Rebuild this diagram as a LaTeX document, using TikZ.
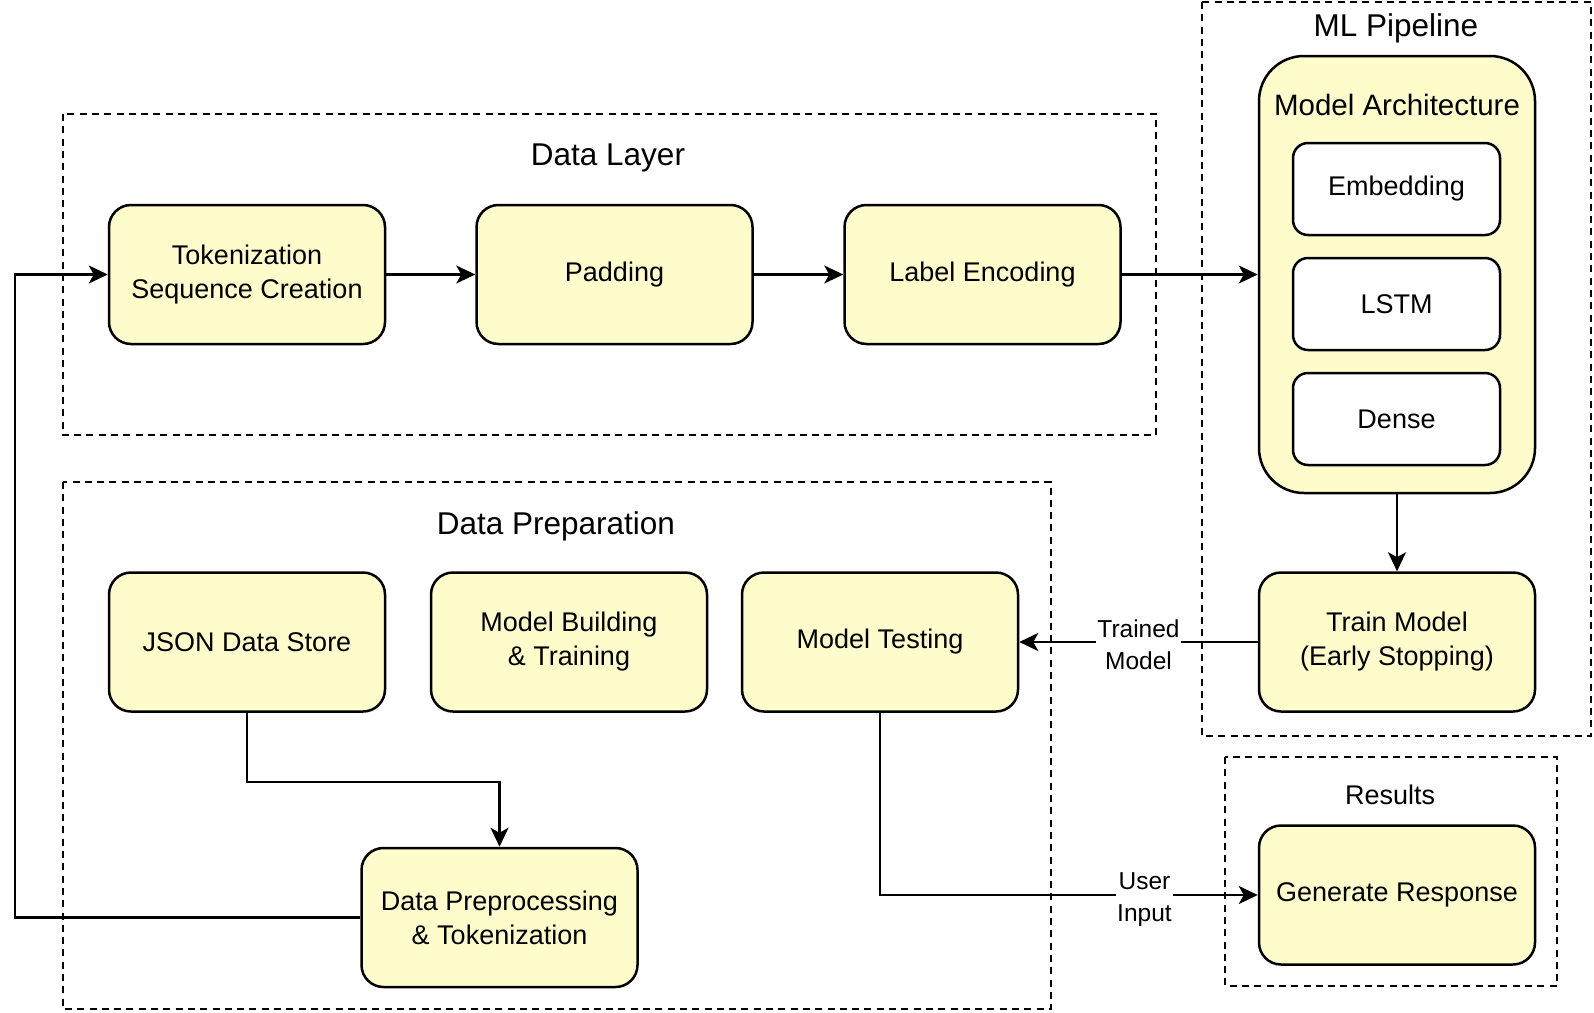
\documentclass[tikz,border=0pt]{standalone}
\usepackage{fontspec}
\setmainfont{Liberation Sans}
\usepackage{tikz}
\usetikzlibrary{shapes, arrows.meta, positioning, calc}

\tikzset{
    block/.style={draw, line width=2.5pt, fill=yellow!20, rounded corners=22pt,
        minimum width=276pt, minimum height=139pt, align=center,
        font=\fontsize{27pt}{34pt}\selectfont},
    layer/.style={draw, line width=2.5pt, fill=white, rounded corners=15pt,
        minimum width=207pt, minimum height=92pt,
        font=\fontsize{27pt}{33pt}\selectfont},
    group/.style={line width=2.6pt, dash pattern=on 7pt off 5.3pt},
    arr/.style={line width=2.2pt, -{Stealth[length=19pt, width=18pt, inset=5pt]}},
    title/.style={font=\fontsize{31.5pt}{36pt}\selectfont},
    elabel/.style={fill=white, align=center, inner sep=1pt,
        font=\fontsize{24.5pt}{32pt}\selectfont}
}

\begin{document}
\begin{tikzpicture}[x=1pt, y=-1pt]
    \useasboundingbox (0,0) rectangle (1594,1012);
    % Groups
    \draw[group] (63,114) rectangle (1156,435);
    \draw[group] (1202,2) rectangle (1591,736);
    \draw[group] (63,482) rectangle (1051,1009);
    \draw[group] (1225,757) rectangle (1557,986);
    \node[title] (tdata) at (608,158) {Data Layer};
    \node[title] (tml) at (1396,28) {ML Pipeline};
    \node[title] (tprep) at (556,526) {Data Preparation};
    \node[font=\fontsize{27pt}{33pt}\selectfont] (tres) at (1390,795) {Results};
    % Data Layer
    \node[block] (tok) at (247,274.5) {Tokenization\\Sequence Creation};
    \node[block] (pad) at (614.5,274.5) {Padding};
    \node[block] (lab) at (982.5,274.5) {Label Encoding};
    % Model Architecture
    \node[block, minimum height=437pt, rounded corners=45pt] (arch) at (1397,274.5) {};
    \node[font=\fontsize{29.5pt}{34pt}\selectfont] (tarch) at (1397,105) {Model Architecture};
    \node[layer] (emb) at (1396.5,189) {Embedding};
    \node[layer] (lstm) at (1396.5,304) {LSTM};
    \node[layer] (dense) at (1396.5,419) {Dense};
    \node[block] (train) at (1397,642) {Train Model\\(Early Stopping)};
    % Data Preparation
    \node[block] (json) at (247,642) {JSON Data Store};
    \node[block] (build) at (569,642) {Model Building\\\& Training};
    \node[block] (test) at (880,642) {Model Testing};
    \node[block] (prep) at (499.5,917.5) {Data Preprocessing\\\& Tokenization};
    % Results
    \node[block] (gen) at (1397,895) {Generate Response};
    % Connectors
    \draw[arr] (tok) -- (pad);
    \draw[arr] (pad) -- (lab);
    \draw[arr] (lab) -- (arch);
    \draw[arr] (arch) -- (train);
    \draw[arr] (train) -- node[elabel, yshift=-3pt] (ltrained) {Trained\\Model} (test);
    \draw[arr] (json.south) -- ++(0,69) -| (prep.north);
    \draw[arr] (prep.west) -- ++(-345,0) |- (tok.west);
    \draw[arr] (test.south) |- node[elabel, pos=0.85, yshift=-5pt] (luser) {User\\Input} (gen.west);
\end{tikzpicture}
\end{document}
